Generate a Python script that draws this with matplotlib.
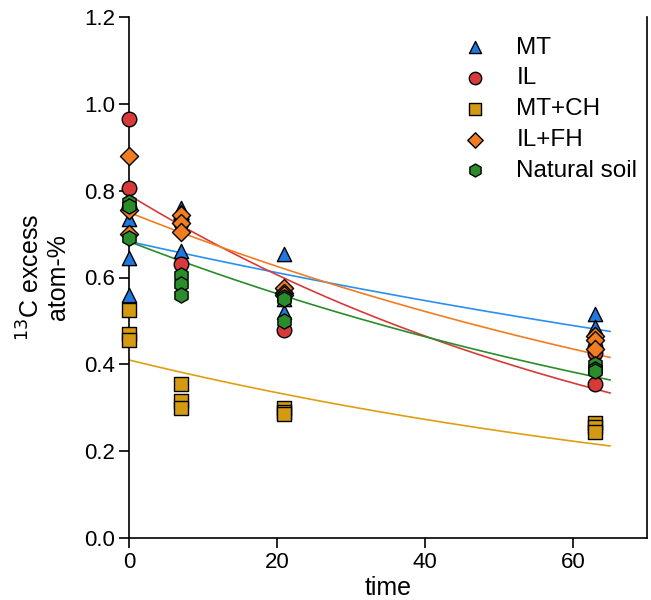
import numpy as np
import matplotlib
matplotlib.use("Agg")
import matplotlib.pyplot as plt

plt.rcParams['font.family'] = ['Liberation Sans', 'DejaVu Sans']

series_names = ["MT", "IL", "MT+CH", "IL+FH", "Natural soil"]

# time points (days) and replicate values per series
t_MT = [0, 0, 0, 7, 7, 7, 21, 21, 21, 63, 63, 63]
v_MT = [0.735, 0.645, 0.56, 0.76, 0.75, 0.66, 0.655, 0.55, 0.52, 0.515, 0.485, 0.47]

t_IL = [0, 0, 0, 7, 7, 7, 21, 21, 21, 63, 63, 63]
v_IL = [0.965, 0.805, 0.76, 0.735, 0.725, 0.63, 0.57, 0.56, 0.48, 0.44, 0.425, 0.355]

t_MTCH = [0, 0, 0, 7, 7, 7, 21, 21, 21, 63, 63, 63]
v_MTCH = [0.525, 0.47, 0.455, 0.355, 0.315, 0.30, 0.30, 0.29, 0.285, 0.265, 0.255, 0.245]

t_ILFH = [0, 0, 0, 7, 7, 7, 21, 21, 21, 63, 63, 63]
v_ILFH = [0.88, 0.755, 0.70, 0.745, 0.725, 0.705, 0.575, 0.565, 0.56, 0.465, 0.455, 0.435]

t_NS = [0, 0, 0, 7, 7, 7, 21, 21, 21, 63, 63, 63]
v_NS = [0.775, 0.765, 0.69, 0.605, 0.585, 0.56, 0.555, 0.55, 0.50, 0.40, 0.39, 0.385]

# exponential fit parameters y = a * exp(-k t), drawn over 0..65
fit_a = [0.683, 0.79, 0.41, 0.75, 0.683]
fit_k = [0.00556, 0.01324, 0.01015, 0.00907, 0.00968]
fit_tmax = 65

marker_colors = ["#1f78e0", "#d83a3a", "#d49b12", "#f07d22", "#2a8c2a"]
line_colors = ["#2a8ff0", "#d83a3a", "#dca010", "#f07d22", "#2a8c2a"]
markers = ["^", "o", "s", "D", "h"]
sizes = [105, 110, 90, 85, 120]

times = [t_MT, t_IL, t_MTCH, t_ILFH, t_NS]
vals = [v_MT, v_IL, v_MTCH, v_ILFH, v_NS]

fig = plt.figure(figsize=(6.51, 6.00), dpi=100)
ax = fig.add_axes([129/651, 1-538/600, (647-129)/651, (538-17)/600])

tt = np.linspace(0, fit_tmax, 200)
for a, k, c in zip(fit_a, fit_k, line_colors):
    ax.plot(tt, a*np.exp(-k*tt), color=c, lw=1.2, zorder=2)

for name, t, v, m, c, s in zip(series_names, times, vals, markers, marker_colors, sizes):
    ax.scatter(t, v, marker=m, s=s, facecolor=c, edgecolor='black', linewidth=1.0,
               label=name, zorder=3, clip_on=False)

ax.set_xlim(0, 70)
ax.set_ylim(0, 1.2)
ax.set_xticks([0, 20, 40, 60])
ax.set_yticks([0, 0.2, 0.4, 0.6, 0.8, 1.0, 1.2])
ax.set_yticklabels([f"{y:.1f}" for y in [0, 0.2, 0.4, 0.6, 0.8, 1.0, 1.2]])
ax.spines['top'].set_visible(False)
for sp in ['left', 'bottom', 'right']:
    ax.spines[sp].set_linewidth(1.2)
ax.tick_params(axis='both', direction='out', length=7, width=1.2, labelsize=16, pad=3)
ax.tick_params(axis='y', right=False)

ax.set_xlabel("time", fontsize=18, labelpad=2)
ax.set_ylabel("$^{13}$C excess\natom-%", fontsize=18, labelpad=10, linespacing=1.1)

leg = ax.legend(loc='upper left', bbox_to_anchor=((441-129)/518, 1-(27-17)/521), frameon=False,
                fontsize=17.5, handletextpad=0.7, labelspacing=0.36, borderaxespad=0,
                markerscale=0.85)

fig.savefig("out.png", dpi=100)
